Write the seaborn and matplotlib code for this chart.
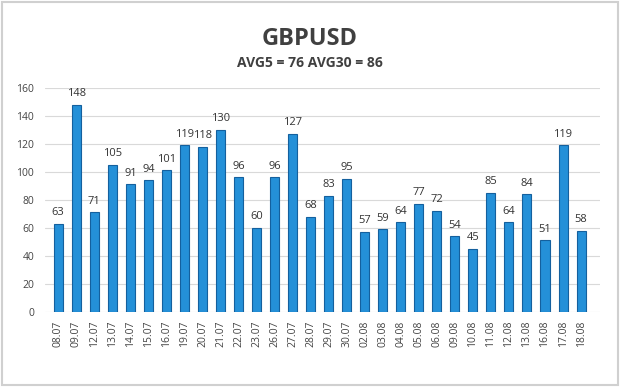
import matplotlib
matplotlib.use("Agg")
import matplotlib.pyplot as plt
import seaborn as sns
import pandas as pd

dates = ["08.07", "09.07", "12.07", "13.07", "14.07", "15.07", "16.07", "19.07",
         "20.07", "21.07", "22.07", "23.07", "26.07", "27.07", "28.07", "29.07",
         "30.07", "02.08", "03.08", "04.08", "05.08", "06.08", "09.08", "10.08",
         "11.08", "12.08", "13.08", "16.08", "17.08", "18.08"]
values = [63, 148, 71, 105, 91, 94, 101, 119, 118, 130, 96, 60, 96, 127, 68, 83,
          95, 57, 59, 64, 77, 72, 54, 45, 85, 64, 84, 51, 119, 58]
y_ticks = [0, 20, 40, 60, 80, 100, 120, 140, 160]

sns.set_style("white")
plt.rcParams['font.family'] = ['Open Sans', 'DejaVu Sans']

df = pd.DataFrame({'date': dates, 'value': values})

fig = plt.figure(figsize=(6.2, 3.87), dpi=100)
ax = fig.add_axes([0.073, 0.194, 0.895, 0.579])

sns.barplot(data=df, x='date', y='value', ax=ax, color='#2490d8',
            saturation=1, width=0.5, edgecolor='#14609e', linewidth=0.8)

for i, v in enumerate(values):
    ax.text(i, v + 4, str(v), ha='center', va='bottom', fontsize=8, color='#333333')

ax.set_ylim(0, 160)
ax.set_yticks(y_ticks)
ax.set_xlim(-0.72, 30.06)
ax.yaxis.grid(True, color='#d9d9d9', linewidth=0.8)
ax.set_axisbelow(True)
for s in ax.spines.values():
    s.set_visible(False)
ax.set_xlabel('')
ax.set_ylabel('')
ax.tick_params(axis='y', labelsize=7.5, colors='#444444', length=0, pad=8)
ax.tick_params(axis='x', labelsize=7.5, colors='#444444', length=0, rotation=90, pad=6)

fig.text(0.5, 0.898, 'GBPUSD', ha='center', va='center', fontsize=17,
         fontweight='bold', color='#404040')
fig.text(0.5, 0.838, 'AVG5 = 76 AVG30 = 86', ha='center', va='center', fontsize=10,
         fontweight='bold', color='#404040')

border = plt.Rectangle((0.003, 0.004), 0.994, 0.992, transform=fig.transFigure,
                       fill=False, edgecolor='#d0d0d0', linewidth=1.5)
fig.patches.append(border)

fig.savefig('out.png', dpi=100)
